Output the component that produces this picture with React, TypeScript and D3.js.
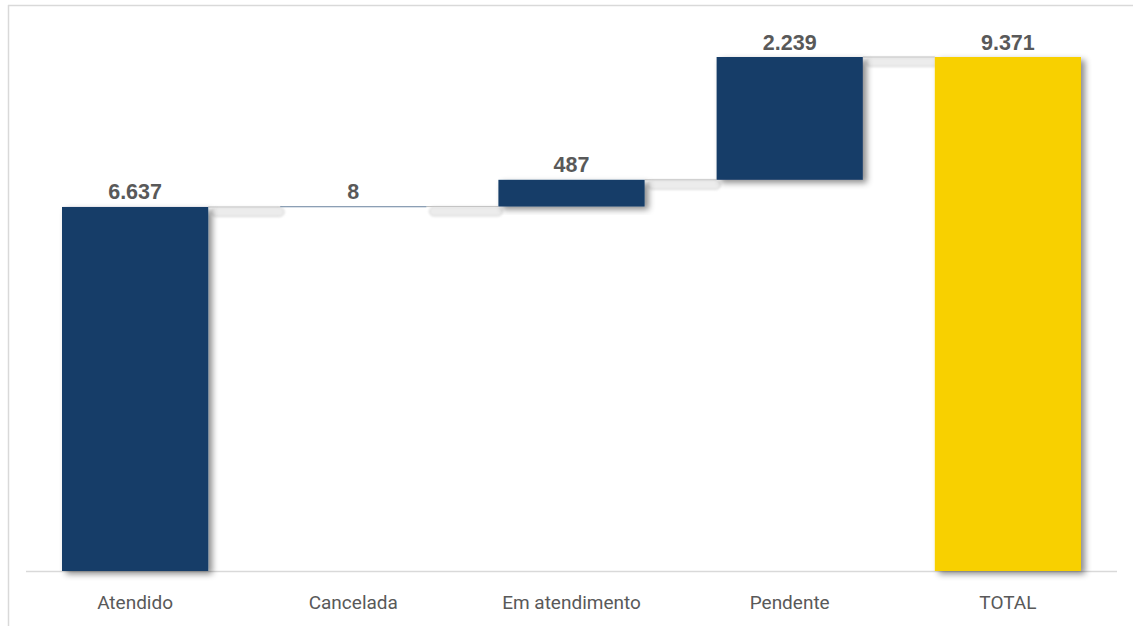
import React from "react";
import * as d3 from "d3";

const categories = ["Atendido", "Cancelada", "Em atendimento", "Pendente", "TOTAL"];
const values = [6637, 8, 487, 2239, 9371];
const isTotal = [false, false, false, false, true];
const valueLabels = ["6.637", "8", "487", "2.239", "9.371"];

const W = 1133;
const H = 626;

export default function App() {
  const x = d3
    .scaleBand<string>()
    .domain(categories)
    .range([26, 1117])
    .paddingInner(0.33)
    .paddingOuter(0.165);
  const y = d3.scaleLinear().domain([0, 9371]).range([571, 57]);

  let running = 0;
  const bars = categories.map((c, i) => {
    let start: number, end: number;
    if (isTotal[i]) {
      start = 0;
      end = values[i];
    } else {
      start = running;
      end = running + values[i];
      running = end;
    }
    return { c, start, end, total: isTotal[i], label: valueLabels[i] };
  });

  const barColor = "#173c68";
  const totalColor = "#f8d000";
  const textColor = "#595959";

  return (
    <svg
      width={W}
      height={H}
      style={{ position: "absolute", left: 0, top: 0, background: "#fff" }}
    >
      <defs>
        <filter id="sh" x="-20%" y="-20%" width="150%" height="150%">
          <feDropShadow dx="4" dy="3" stdDeviation="3" floodColor="#000" floodOpacity="0.45" />
        </filter>
        <filter id="blur" x="-10%" y="-100%" width="120%" height="300%">
          <feGaussianBlur stdDeviation="0.8" />
        </filter>
      </defs>
      {/* frame */}
      <line x1={8.5} x2={8.5} y1={5} y2={626} stroke="#d9d9d9" strokeWidth={1.5} />
      <line x1={8} x2={W} y1={5.5} y2={5.5} stroke="#d9d9d9" strokeWidth={1.5} />
      {/* axis */}
      <line x1={26} x2={1117} y1={571.5} y2={571.5} stroke="#d9d9d9" strokeWidth={1.5} />
      {/* connector shadows */}
      {bars.slice(0, -1).map((b, i) => {
        const next = bars[i + 1];
        const yy = y(b.end);
        const xa = x(b.c)! + x.bandwidth();
        const xb = x(next.c)!;
        return (
          <rect
            key={"cs" + i}
            x={xa + 3}
            y={yy + 0.5}
            width={xb - xa + 1}
            height={9}
            rx={4.5}
            fill="#ececec"
            stroke="#cccccc"
            strokeWidth={0.8}
            filter="url(#blur)"
          />
        );
      })}
      {/* connectors */}
      {bars.slice(0, -1).map((b, i) => {
        const next = bars[i + 1];
        const yy = y(b.end);
        return (
          <line
            key={"c" + i}
            x1={x(b.c)! + x.bandwidth()}
            x2={x(next.c)!}
            y1={yy}
            y2={yy}
            stroke="#c4c4c4"
            strokeWidth={1}
          />
        );
      })}
      {/* bars */}
      {bars.map((b, i) => {
        const y0 = y(Math.max(b.start, b.end));
        const y1 = y(Math.min(b.start, b.end));
        return (
          <rect
            key={"b" + i}
            x={x(b.c)}
            y={y0}
            width={x.bandwidth()}
            height={Math.max(y1 - y0, 0.6)}
            fill={b.total ? totalColor : barColor}
            filter="url(#sh)"
          />
        );
      })}
      {/* value labels */}
      {bars.map((b, i) => (
        <text
          key={"v" + i}
          x={x(b.c)! + x.bandwidth() / 2}
          y={y(Math.max(b.start, b.end)) - 7.5}
          textAnchor="middle"
          fontFamily="'Liberation Sans', Arial, sans-serif"
          fontWeight="bold"
          fontSize={21.5}
          fill={textColor}
        >
          {b.label}
        </text>
      ))}
      {/* category labels */}
      {categories.map((c, i) => (
        <text
          key={"l" + i}
          x={x(c)! + x.bandwidth() / 2}
          y={609}
          textAnchor="middle"
          fontFamily="Roboto, 'Noto Sans', sans-serif"
          fontSize={19}
          fill={textColor}
        >
          {c}
        </text>
      ))}
    </svg>
  );
}
